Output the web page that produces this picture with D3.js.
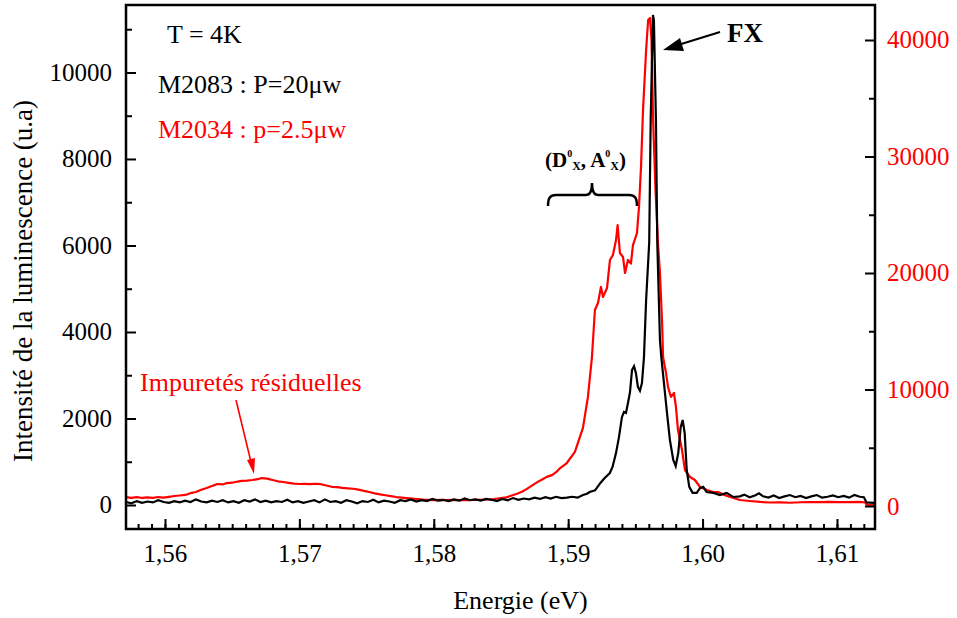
<!DOCTYPE html>
<html><head><meta charset="utf-8">
<script src="https://cdn.jsdelivr.net/npm/d3@7"></script>
<style>
body{margin:0;background:#fff}
svg{display:block}
text{font-family:"Liberation Serif","Times New Roman",serif}
</style>
</head><body>
<svg id="c" width="957" height="618"></svg>
<script>
// ---- data ----
const xTicks = [1.56, 1.57, 1.58, 1.59, 1.60, 1.61];
const leftTicks = [0, 2000, 4000, 6000, 8000, 10000];
const rightTicks = [0, 10000, 20000, 30000, 40000];
const xLabel = "Energie (eV)";
const yLabel = "Intensité de la luminescence (u.a)";
const legendTexts = ["T = 4K", "M2083 : P=20μw", "M2034 : p=2.5μw"];

// M2083 (black, left axis): [energy eV, intensity]
const m2083 = [
[1.5571,70],[1.5575,40],[1.5579,90],[1.5583,50],[1.5587,80],[1.5591,60],[1.5595,110],[1.5599,70],
[1.5603,50],[1.5607,90],[1.5611,60],[1.5615,100],[1.5619,70],[1.5623,130],[1.5627,80],[1.5631,60],
[1.5635,100],[1.5639,70],[1.5643,110],[1.5647,60],[1.5651,90],[1.5655,50],[1.5659,110],[1.5663,80],
[1.5667,130],[1.5671,70],[1.5675,100],[1.5679,60],[1.5683,90],[1.5687,70],[1.5691,120],[1.5695,60],
[1.5699,90],[1.5703,50],[1.5707,80],[1.5711,110],[1.5715,60],[1.5719,130],[1.5723,70],[1.5727,90],
[1.5731,50],[1.5735,110],[1.5739,80],[1.5743,40],[1.5747,90],[1.5751,70],[1.5755,120],[1.5759,60],
[1.5763,100],[1.5767,80],[1.5771,50],[1.5775,110],[1.5779,90],[1.5783,130],[1.5787,80],[1.5791,110],
[1.5795,90],[1.5799,140],[1.5803,100],[1.5807,120],[1.5811,90],[1.5815,130],[1.5819,100],[1.5823,150],
[1.5827,110],[1.5831,130],[1.5835,100],[1.5839,140],[1.5843,120],[1.5847,90],[1.5851,140],[1.5855,110],
[1.5859,160],[1.5863,120],[1.5867,150],[1.5871,130],[1.5875,170],[1.5879,140],[1.5883,180],[1.5887,150],
[1.5891,190],[1.5895,160],[1.5899,170],[1.5903,190],[1.5907,170],[1.5911,230],[1.5914,260],[1.5916,300],
[1.5920,340],[1.5924,510],[1.5927,620],[1.5931,740],[1.5933,880],[1.59356,1200],[1.59378,1570],[1.5940,2030],
[1.59415,2150],[1.5943,2130],[1.59445,2360],[1.5946,2610],[1.59475,3120],[1.5949,3210],[1.59504,3050],[1.59519,2730],
[1.59534,2640],[1.59549,2820],[1.59564,3420],[1.5958,4740],[1.59603,6070],[1.59614,8900],[1.59631,11330],[1.59638,11200],
[1.59653,8900],[1.59663,6070],[1.59683,3810],[1.59693,3420],[1.59708,2960],[1.59733,2200],[1.59757,1500],[1.59782,1040],
[1.5980,900],[1.59819,1200],[1.59837,1800],[1.59852,1965],[1.59867,1660],[1.59882,810],[1.59901,420],[1.59926,280],
[1.59956,280],[1.59981,390],[1.60005,420],[1.6003,300],[1.6008,280],[1.60129,230],[1.60179,280],[1.60228,185],
[1.60278,200],[1.6031,240],[1.6035,180],[1.6039,220],[1.6042,270],[1.6045,200],[1.6049,170],[1.6053,220],
[1.6057,160],[1.6061,200],[1.6065,230],[1.6069,180],[1.6073,210],[1.6077,160],[1.6081,200],[1.6085,230],
[1.6089,170],[1.6093,190],[1.6097,220],[1.6101,180],[1.6105,210],[1.6109,170],[1.6113,230],[1.6117,190],
[1.6120,180],[1.6122,60],[1.6128,50]
];

// M2034 (red, right axis): [energy eV, intensity]
const m2034 = [
[1.5571,770],[1.5575,700],[1.5579,760],[1.5583,690],[1.5587,740],[1.5591,700],[1.5595,770],[1.5599,720],
[1.5603,790],[1.5607,860],[1.5611,900],[1.5615,950],[1.5619,1100],[1.5623,1200],[1.5627,1400],[1.5631,1550],
[1.5635,1720],[1.5639,1890],[1.5643,1850],[1.5646,1970],[1.5650,2000],[1.5654,2100],[1.5657,2150],[1.5661,2180],
[1.5665,2230],[1.5669,2300],[1.5672,2400],[1.5676,2350],[1.5680,2230],[1.5684,2120],[1.5688,2060],[1.5692,1990],
[1.5696,1920],[1.5700,1890],[1.5704,1900],[1.5708,1870],[1.5712,1910],[1.5716,1870],[1.5720,1760],[1.5724,1650],
[1.5728,1620],[1.5732,1560],[1.5736,1520],[1.5740,1480],[1.5744,1400],[1.5748,1300],[1.5752,1200],[1.5756,1080],
[1.5760,1000],[1.5764,920],[1.5768,850],[1.5772,770],[1.5776,720],[1.5780,680],[1.5784,630],[1.5788,590],
[1.5792,540],[1.5796,520],[1.5800,510],[1.5805,520],[1.5810,500],[1.5815,520],[1.5820,510],[1.5825,500],
[1.5830,520],[1.5835,530],[1.5840,560],[1.5845,600],[1.5850,680],[1.5854,740],[1.5858,900],[1.5862,1050],
[1.5866,1250],[1.5869,1450],[1.5873,1750],[1.5877,2050],[1.5881,2300],[1.5884,2500],[1.5888,2650],[1.5891,2900],
[1.5894,3260],[1.5899,3690],[1.5905,4640],[1.5911,6700],[1.59147,9360],[1.59177,12790],[1.59199,16820],[1.59222,17430],
[1.59244,18800],[1.59259,17940],[1.59289,18710],[1.59311,21120],[1.59333,21550],[1.59356,22830],[1.59368,24120],[1.59385,21720],
[1.59408,21370],[1.59423,20000],[1.59445,21120],[1.59467,20800],[1.59482,22400],[1.59512,23430],[1.59527,25670],[1.59542,29100],
[1.59557,34000],[1.5958,39140],[1.59595,41720],[1.59609,41890],[1.5962,40000],[1.59632,33130],[1.5965,27120],[1.59669,22400],
[1.59683,20000],[1.59699,15710],[1.59706,12790],[1.59728,11420],[1.59743,10210],[1.59765,9360],[1.59787,9700],[1.59802,8500],
[1.59817,6520],[1.59847,4810],[1.59869,3090],[1.59906,2490],[1.59943,2230],[1.59981,1630],[1.60033,1370],[1.60077,1200],
[1.60115,1200],[1.60152,1000],[1.60204,770],[1.60278,515],[1.6035,430],[1.6043,350],[1.6050,300],[1.6058,310],
[1.6065,280],[1.6073,320],[1.6080,340],[1.6087,330],[1.6095,360],[1.6102,340],[1.6110,330],[1.6117,350],
[1.6121,300],[1.6122,120],[1.6128,100]
];

// ---- layout ----
const L = 126, R = 875, T = 5, B = 529;
const svg = d3.select("#c");
const x = d3.scaleLinear().domain([1.5571, 1.61283]).range([L, R]);
const yL = d3.scaleLinear().domain([-555, 11560]).range([B, T]);
const yR = d3.scaleLinear().domain([-1974, 43004]).range([B, T]);
const fmtX = d => d3.format(".2f")(d).replace(".", ",");

svg.append("defs").append("clipPath").attr("id", "clip")
  .append("rect").attr("x", L).attr("y", T).attr("width", R - L).attr("height", B - T);

// lines
const lineR = d3.line().x(d => x(d[0])).y(d => yR(d[1]));
const lineL = d3.line().x(d => x(d[0])).y(d => yL(d[1]));
const g = svg.append("g").attr("clip-path", "url(#clip)");
g.append("path").datum(m2034).attr("d", lineR).attr("fill", "none")
  .attr("stroke", "#ff0000").attr("stroke-width", 2.2).attr("stroke-linejoin", "round");
g.append("path").datum(m2083).attr("d", lineL).attr("fill", "none")
  .attr("stroke", "#000").attr("stroke-width", 2.2).attr("stroke-linejoin", "miter");

// axes
function styleAxis(sel, color) {
  sel.select(".domain").remove();
  sel.selectAll(".tick line").attr("stroke", "#000").attr("stroke-width", 2);
  sel.selectAll("text").attr("fill", color).attr("font-size", 25)
     .style("font-family", '"Liberation Serif","Times New Roman",serif');
}
const minorX = d3.range(1558, 1613).map(d => d / 1000);
svg.append("g").attr("transform", `translate(0,${B})`)
  .call(d3.axisBottom(x).tickValues(minorX).tickSize(-5).tickFormat(""))
  .call(s => styleAxis(s, "#000"));
svg.append("g").attr("transform", `translate(0,${B})`)
  .call(d3.axisBottom(x).tickValues(xTicks).tickSize(-10).tickPadding(15).tickFormat(fmtX))
  .call(s => styleAxis(s, "#000"));

svg.append("g").attr("transform", `translate(${L},0)`)
  .call(d3.axisLeft(yL).tickValues(d3.range(1000, 12000, 2000)).tickSize(-6).tickFormat(""))
  .call(s => styleAxis(s, "#000"));
svg.append("g").attr("transform", `translate(${L},0)`)
  .call(d3.axisLeft(yL).tickValues(leftTicks).tickSize(-10).tickPadding(14).tickFormat(d3.format("d")))
  .call(s => styleAxis(s, "#000"));

svg.append("g").attr("transform", `translate(${R},0)`)
  .call(d3.axisRight(yR).tickValues([5000, 15000, 25000, 35000]).tickSize(-6).tickFormat(""))
  .call(s => styleAxis(s, "#ff0000"));
svg.append("g").attr("transform", `translate(${R},0)`)
  .call(d3.axisRight(yR).tickValues(rightTicks).tickSize(-10).tickPadding(12).tickFormat(d3.format("d")))
  .call(s => styleAxis(s, "#ff0000"));

// frame
svg.append("rect").attr("x", L).attr("y", T).attr("width", R - L).attr("height", B - T)
  .attr("fill", "none").attr("stroke", "#000").attr("stroke-width", 2.5);

// axis titles
svg.append("text").attr("x", (L + R) / 2 + 20).attr("y", 609).attr("text-anchor", "middle")
  .attr("font-size", 26).text(xLabel);
svg.append("text").attr("transform", "translate(32,462) rotate(-90)")
  .attr("font-size", 27).text(yLabel);

// legend texts
svg.append("text").attr("x", 167).attr("y", 43).attr("font-size", 26).text(legendTexts[0]);
svg.append("text").attr("x", 158).attr("y", 93).attr("font-size", 26).text(legendTexts[1]);
svg.append("text").attr("x", 158).attr("y", 138).attr("font-size", 26).attr("fill", "#ff0000").text(legendTexts[2]);

// FX annotation
svg.append("text").attr("x", 727).attr("y", 42).attr("font-size", 27).attr("font-weight", "bold").text("FX");
svg.append("line").attr("x1", 720).attr("y1", 32).attr("x2", 678).attr("y2", 45)
  .attr("stroke", "#000").attr("stroke-width", 2);
svg.append("path").attr("d", "M663,50 L680,38 L684,51 Z").attr("fill", "#000");

// (D0X, A0X) annotation
const dt = svg.append("text").attr("x", 545).attr("y", 167).attr("font-weight", "bold").attr("font-size", 21);
dt.append("tspan").text("(D");
dt.append("tspan").attr("font-size", 10).attr("dy", -10).text("0");
dt.append("tspan").attr("font-size", 12).attr("dy", 13).text("X");
dt.append("tspan").attr("dy", -3).text(", A");
dt.append("tspan").attr("font-size", 10).attr("dy", -10).text("0");
dt.append("tspan").attr("font-size", 12).attr("dy", 13).text("X");
dt.append("tspan").attr("dy", -3).text(")");

// brace
svg.append("path")
  .attr("d", "M548,206 C548,198 550,195 556,195 L586,195 C590,195 592,190 592,183 C592,190 594,195 598,195 L629,195 C635,195 637,198 637,206")
  .attr("fill", "none").attr("stroke", "#000").attr("stroke-width", 2.5);

// Impuretés résiduelles annotation
svg.append("text").attr("x", 140).attr("y", 391).attr("font-size", 26).attr("fill", "#ff0000").text("Impuretés résiduelles");
svg.append("line").attr("x1", 236).attr("y1", 400).attr("x2", 251).attr("y2", 462)
  .attr("stroke", "#ff0000").attr("stroke-width", 1.6);
svg.append("path").attr("d", "M254,474 L247,460 L255,458 Z").attr("fill", "#ff0000");
</script>
</body></html>
